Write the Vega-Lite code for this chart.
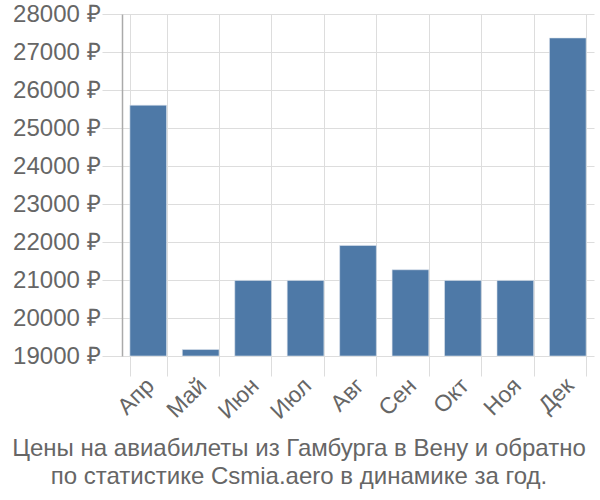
{
  "$schema": "https://vega.github.io/schema/vega-lite/v6.json",
  "autosize": "none",
  "width": 472,
  "height": 342,
  "padding": {"left": 122, "top": 14, "right": 6, "bottom": 144},
  "background": "white",
  "config": {
    "font": "Liberation Sans",
    "view": {"stroke": null}
  },
  "title": {
    "text": ["Цены на авиабилеты из Гамбурга в Вену и обратно", "по статистике Csmia.aero в динамике за год."],
    "orient": "bottom",
    "anchor": "middle",
    "frame": "group",
    "dx": -59,
    "offset": 14,
    "fontSize": 24,
    "fontWeight": "normal",
    "color": "#666666",
    "lineHeight": 28,
    "font": "Liberation Sans"
  },
  "data": {
    "values": [
      {"month": "Апр", "price": 25600},
      {"month": "Май", "price": 19170},
      {"month": "Июн", "price": 20990},
      {"month": "Июл", "price": 20990},
      {"month": "Авг", "price": 21910},
      {"month": "Сен", "price": 21270},
      {"month": "Окт", "price": 20990},
      {"month": "Ноя", "price": 20990},
      {"month": "Дек", "price": 27370}
    ]
  },
  "mark": {"type": "bar", "color": "#4e79a7", "stroke": "#dfe6ef", "strokeWidth": 0.6},
  "encoding": {
    "x": {
      "field": "month",
      "type": "nominal",
      "sort": null,
      "scale": {"paddingInner": 0.3, "paddingOuter": 0.15},
      "axis": {
        "title": null,
        "tickBand": "extent",
        "grid": true,
        "gridColor": "#dddddd",
        "domain": false,
        "tickColor": "#dddddd",
        "tickSize": 20,
        "labelAngle": -45,
        "labelFontSize": 23,
        "labelColor": "#666666",
        "labelPadding": -2,
        "labelOffset": -6
      }
    },
    "y": {
      "field": "price",
      "type": "quantitative",
      "scale": {"domain": [19000, 28000], "zero": false, "nice": false},
      "axis": {
        "title": null,
        "values": [19000, 20000, 21000, 22000, 23000, 24000, 25000, 26000, 27000, 28000],
        "labelExpr": "datum.value + ' ₽'",
        "grid": true,
        "gridColor": "#dddddd",
        "tickColor": "#dddddd",
        "tickSize": 20,
        "domainColor": "#aaaaaa",
        "domainWidth": 1.5,
        "labelFontSize": 24,
        "labelColor": "#666666",
        "labelPadding": 2
      }
    },
    "y2": {"datum": 19000}
  }
}
